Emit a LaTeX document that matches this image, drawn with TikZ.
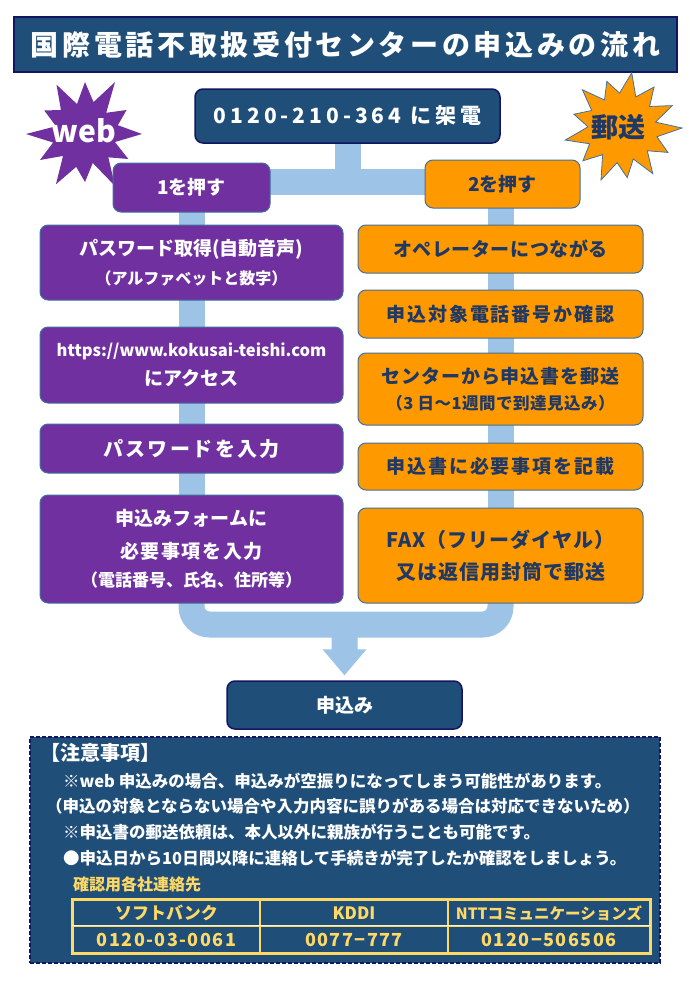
\documentclass[tikz,border=0pt]{standalone}
\usepackage{fontspec}
\setmainfont{Noto Sans CJK JP}
\usetikzlibrary{calc}
\definecolor{dblue}{HTML}{1F4E79}
\definecolor{navy}{HTML}{141464}
\definecolor{purp}{HTML}{7030A0}
\definecolor{orng}{HTML}{FF9900}
\definecolor{bgray}{HTML}{41719C}
\definecolor{lblue}{HTML}{9DC3E6}
\definecolor{gold}{HTML}{FFD966}
\definecolor{otext}{HTML}{1F3864}
\pgfdeclarelayer{bg}
\pgfsetlayers{bg,main}
\newcommand\lsp[1]{\addfontfeature{LetterSpace=#1}}
\newcommand\fs[1]{\fontsize{#1}{30}\selectfont}
\begin{document}
\begin{tikzpicture}[x=1pt,y=-1pt,
  box/.style={rounded corners=8pt, draw=bgray, line width=1pt, inner sep=0pt, align=center, font=\bfseries},
  pbox/.style={box, fill=purp, text=white},
  obox/.style={box, fill=orng, text=otext},
  dbox/.style={rounded corners=8pt, draw=navy, line width=1.5pt, fill=dblue, text=white, align=center, font=\bfseries, inner sep=0pt},
  conn/.style={draw=lblue, line width=26pt},
  note/.style={text=white, anchor=west, font=\bfseries\fontsize{16.5}{18}\selectfont, inner sep=0pt},
  cell/.style={draw=gold, line width=1.5pt, text=gold, font=\bfseries\fontsize{17}{19}\selectfont, inner sep=0pt}
]
\useasboundingbox (0,0) rectangle (690,983);

% title
\node[dbox, line width=2pt, rounded corners=0pt, minimum width=663pt, minimum height=55pt, font=\bfseries\fs{28}\lsp{13}] (title) at (345.5,44.5) {国際電話不取扱受付センターの申込みの流れ};

% starbursts
\fill[purp, shift={(85,134)}] (0:57) \foreach \a/\r in {15/31,30/50,45/33,60/60,75/30,90/48,105/34,120/58,135/31,150/52,165/33,180/59,195/30,210/47,225/34,240/57,255/31,270/52,285/33,300/60,315/30,330/48,345/34} { -- (\a:\r) } -- cycle;
\node[text=white, font=\bfseries\fs{30}, inner sep=0pt] (web) at (84,131) {web};

\filldraw[fill=orng, draw=bgray, line width=0.8pt, shift={(622,128)}] (0:60) \foreach \a/\r in {14/36,28/52,42/34,56/55,70/33,84/50,98/35,112/56,126/33,140/51,154/36,168/58,182/34,196/50,210/35,224/55,238/33,252/49,266/35,280/56,294/34,308/52,322/35,336/55,350/34} { -- (\a:\r) } -- cycle;
\node[text=otext, font=\bfseries\fs{27}, inner sep=0pt] (yuso) at (618,127) {郵送};

% top
\node[dbox, minimum width=305pt, minimum height=54pt, font=\bfseries\fs{21}\lsp{19}] (top) at (347.5,116) {0120-210-364 に架電};

% branches
\node[pbox, minimum width=157pt, minimum height=49pt, font=\bfseries\fs{19}] (p0) at (191.5,187.5) {1を押す};
\node[obox, minimum width=155pt, minimum height=48pt, font=\bfseries\fs{19}] (o0) at (502.5,184) {2を押す};

% purple column
\node[pbox, minimum width=303pt, minimum height=75pt, font=\bfseries\fs{19}] (p1) at (191.5,262.5) {パスワード取得(自動音声)\\[-1pt]{\fs{16}（アルファベットと数字）}};
\node[pbox, minimum width=303pt, minimum height=76pt, font=\bfseries\fs{16.5}] (p2) at (191.5,365) {https://www.kokusai-teishi.com\\[-1pt]{\fs{19}にアクセス}};
\node[pbox, minimum width=303pt, minimum height=49pt, font=\bfseries\fs{20}\lsp{12}] (p3) at (191.5,448.5) {パスワードを入力};
\node[pbox, minimum width=303pt, minimum height=108pt, font=\bfseries\fs{19}] (p4) at (191.5,549) {申込みフォームに\\[3pt]{\lsp{8}必要事項を入力}\\[-2pt]{\fs{17}（電話番号、氏名、住所等）}};

% orange column
\node[obox, minimum width=285pt, minimum height=48pt, font=\bfseries\fs{19}\lsp{3}] (o1) at (500.5,249) {オペレーターにつながる};
\node[obox, minimum width=285pt, minimum height=48pt, font=\bfseries\fs{19}\lsp{10}] (o2) at (500.5,314) {申込対象電話番号か確認};
\node[obox, minimum width=285pt, minimum height=72pt, font=\bfseries\fs{19}\lsp{5}] (o3) at (500.5,389) {センターから申込書を郵送\\[-4pt]{\fs{16.5}\lsp{3}（3 日～1週間で到達見込み）}};
\node[obox, minimum width=285pt, minimum height=47pt, font=\bfseries\fs{19}\lsp{10}] (o4) at (500.5,466.5) {申込書に必要事項を記載};
\node[obox, minimum width=285pt, minimum height=95pt, font=\bfseries\fs{20}\lsp{5}] (o5) at (500.5,555.5) {FAX（フリーダイヤル）\\[2pt]又は返信用封筒で郵送};

% result
\node[dbox, minimum width=235pt, minimum height=48pt, font=\bfseries\fs{19}] (res) at (344.5,705) {申込み};

% connectors
\coordinate (hb) at (347.5,182);
\coordinate (bot) at (345,624.5);
\begin{pgfonlayer}{bg}
\fill[white] (0,0) rectangle (690,983);
\draw[conn] (top.south) -- (top.south |- hb);
\draw[conn] (p0.center |- hb) -- (o0.center |- hb);
\draw[conn] (p0.center) -- (p4.center);
\draw[conn] (o5.center |- o0.center) -- (o5.center);
\draw[conn, rounded corners=18pt] (p4.center) -- (p4.center |- bot) -- (o5.center |- bot) -- (o5.center);
\fill[lblue] ($(bot)+(-13,0)$) -- ($(res.north)+(-13,-31)$) -- ($(res.north)+(-22,-31)$) -- ($(res.north)+(0,-5)$) -- ($(res.north)+(22,-31)$) -- ($(res.north)+(13,-31)$) -- ($(bot)+(13,0)$) -- cycle;
\end{pgfonlayer}

% notes
\node[draw=navy, dashed, dash pattern=on 4pt off 2pt, line width=1.5pt, fill=dblue, minimum width=630pt, minimum height=226pt, inner sep=0pt] (notes) at (345,850) {};
\node[note, font=\bfseries\fs{20}] (nh) at (40,753) {【注意事項】};
\node[note] (n1) at (63,781) {※web 申込みの場合、申込みが空振りになってしまう可能性があります。};
\node[note] (n2) at (46,806) {（申込の対象とならない場合や入力内容に誤りがある場合は対応できないため）};
\node[note] (n3) at (63,832) {※申込書の郵送依頼は、本人以外に親族が行うことも可能です。};
\node[note] (n4) at (63,858) {●申込日から10日間以降に連絡して手続きが完了したか確認をしましょう。};
\node[note, text=gold, font=\bfseries\fs{16}] (nk) at (73,884) {確認用各社連絡先};

% table
\node[cell, minimum width=187pt, minimum height=26pt] (c11) at (166.5,913) {ソフトバンク};
\node[cell, minimum width=188pt, minimum height=26pt] (c12) at (354,913) {KDDI};
\node[cell, minimum width=202pt, minimum height=26pt, font=\bfseries\fs{15.5}] (c13) at (549,913) {NTTコミュニケーションズ};
\node[cell, minimum width=187pt, minimum height=27pt, font=\bfseries\fs{18}\lsp{8}] (c21) at (166.5,939.5) {0120-03-0061};
\node[cell, minimum width=188pt, minimum height=27pt, font=\bfseries\fs{18}\lsp{8}] (c22) at (354,939.5) {0077−777};
\node[cell, minimum width=202pt, minimum height=27pt, font=\bfseries\fs{18}\lsp{8}] (c23) at (549,939.5) {0120−506506};
\draw[gold, line width=2.5pt] (c11.north west) rectangle (c23.south east);
\draw[gold!35!white, line width=1.5pt] (c21.north west) -- (c23.north east);
\end{tikzpicture}
\end{document}
